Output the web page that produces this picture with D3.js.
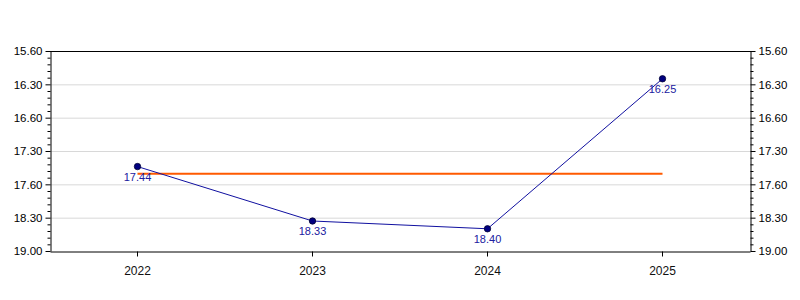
<!DOCTYPE html>
<html>
<head>
<meta charset="utf-8">
<script src="https://cdn.jsdelivr.net/npm/d3@7"></script>
<style>
  body { margin: 0; background: #fff; }
  text { font-family: "Liberation Sans", Arial, sans-serif; }
</style>
</head>
<body>
<div id="chart"></div>
<script>
// years and times (minutes.seconds)
const years = ["2022", "2023", "2024", "2025"];
const times = ["17.44", "18.33", "18.40", "16.25"];
// axis tick values (decimal minutes) and the labels printed at them
const tickValues = [16, 16.5, 17, 17.5, 18, 18.5, 19];
const tickLabels = ["15.60", "16.30", "16.60", "17.30", "17.60", "18.30", "19.00"];

function toMinutes(s) {
  let parts = s.split(".");
  return +parts[0] + (+parts[1]) / 60;
}

let width = 800, height = 300;
let margin = {top: 51, right: 50, bottom: 49, left: 50};

let svg = d3.select("#chart")
  .append("svg")
  .attr("width", width)
  .attr("height", height);

let x = d3.scaleBand()
  .domain(years)
  .range([margin.left, width - margin.right]);

let y = d3.scaleLinear()
  .domain([16, 19])
  .range([margin.top, height - margin.bottom]);

let data = years.map((yr, i) => ({year: yr, label: times[i], value: toMinutes(times[i])}));
let mean = d3.mean(data, d => d.value);

// grid lines
svg.append("g")
  .selectAll("line")
  .data(tickValues.slice(1, -1))
  .enter().append("line")
  .attr("x1", margin.left)
  .attr("x2", width - margin.right)
  .attr("y1", d => y(d) + 0.5)
  .attr("y2", d => y(d) + 0.5)
  .attr("stroke", "#d8d8d8");

// minor ticks
let minor = d3.range(16, 19.001, 0.1).filter(v => Math.abs(v * 2 - Math.round(v * 2)) > 0.01);

function drawYAxis(axisFn, xPos) {
  let g = svg.append("g")
    .attr("transform", "translate(" + xPos + ",0)")
    .call(axisFn(y)
      .tickValues(tickValues)
      .tickFormat((d, i) => tickLabels[i])
      .tickSize(5)
      .tickSizeOuter(0));
  g.selectAll("text").style("font-size", "11.5px").attr("fill", "#000");
  g.select(".domain").attr("stroke", "#000");
  g.selectAll(".minor")
    .data(minor)
    .enter().append("line")
    .attr("class", "minor")
    .attr("x1", 0)
    .attr("x2", axisFn === d3.axisLeft ? -3 : 3)
    .attr("y1", d => y(d) + 0.5)
    .attr("y2", d => y(d) + 0.5)
    .attr("stroke", "#000");
}
drawYAxis(d3.axisLeft, margin.left + 0.5);
drawYAxis(d3.axisRight, width - margin.right + 0.5);

// top border
svg.append("line")
  .attr("x1", margin.left)
  .attr("x2", width - margin.right + 1)
  .attr("y1", margin.top + 0.5)
  .attr("y2", margin.top + 0.5)
  .attr("stroke", "#000");

// x axis
let gx = svg.append("g")
  .attr("transform", "translate(0," + (height - margin.bottom + 0.5) + ")")
  .call(d3.axisBottom(x).tickSize(5).tickSizeOuter(0));
gx.selectAll("text")
  .style("font-size", "12px")
  .attr("fill", "#111")
  .attr("dy", "1.25em");
gx.select(".domain").attr("stroke", "#000");

let cx = d => x(d.year) + x.bandwidth() / 2;

// average line
svg.append("line")
  .attr("x1", cx(data[0]))
  .attr("x2", cx(data[data.length - 1]))
  .attr("y1", y(mean))
  .attr("y2", y(mean))
  .attr("stroke", "#ff5a00")
  .attr("stroke-width", 2);

// series line
svg.append("path")
  .datum(data)
  .attr("fill", "none")
  .attr("stroke", "#1010a0")
  .attr("stroke-width", 1)
  .attr("d", d3.line().x(cx).y(d => y(d.value)));

svg.append("g")
  .selectAll("circle")
  .data(data)
  .enter().append("circle")
  .attr("cx", cx)
  .attr("cy", d => y(d.value))
  .attr("r", 3.2)
  .attr("fill", "#000080")
  .attr("stroke", "#000033")
  .attr("stroke-width", 0.8);

svg.append("g")
  .selectAll("text")
  .data(data)
  .enter().append("text")
  .attr("x", cx)
  .attr("y", d => y(d.value) + 14)
  .attr("text-anchor", "middle")
  .style("font-size", "11px")
  .attr("fill", "#2020a0")
  .text(d => d.label);
</script>
</body>
</html>
